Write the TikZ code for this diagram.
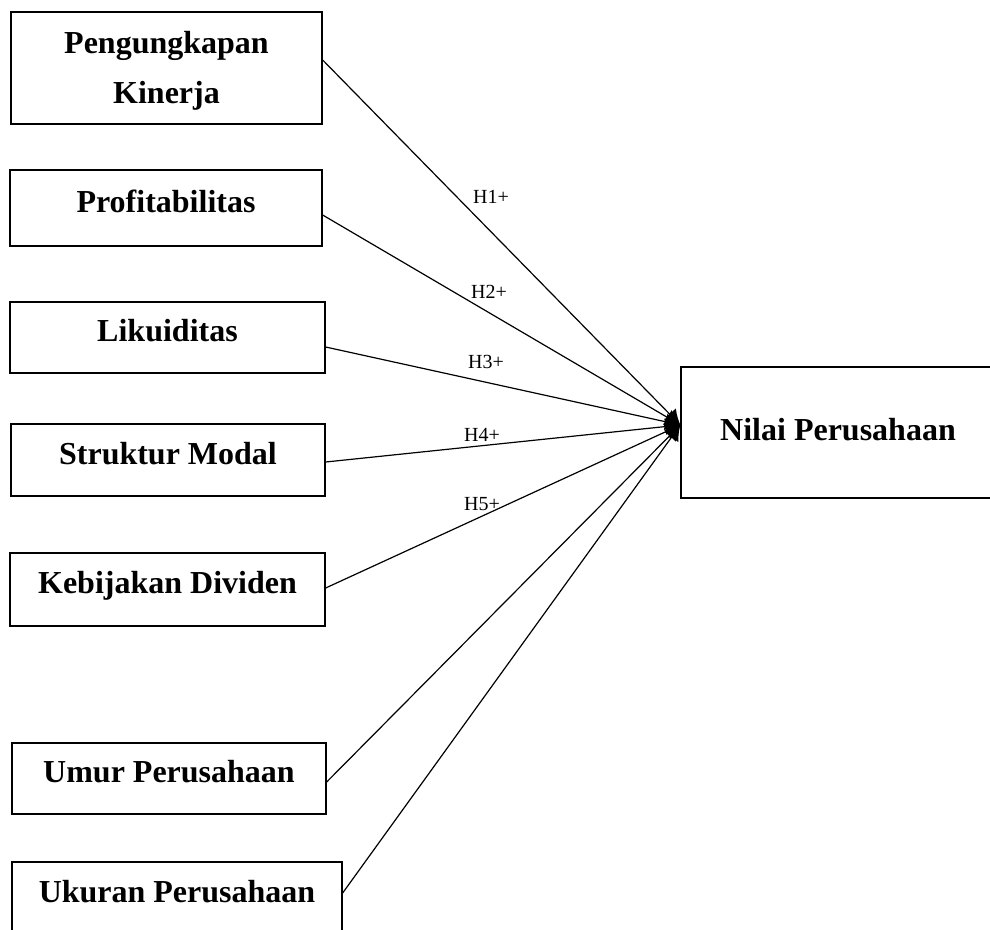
\documentclass[tikz,border=0pt]{standalone}
\usepackage{fontspec}
\setmainfont{Liberation Serif}
\usetikzlibrary{calc,arrows.meta}
\begin{document}
\begin{tikzpicture}[x=1pt,y=-1pt,
  varbox/.style={draw=black,line width=1.3pt,rectangle,inner sep=0pt,
    font=\fontsize{32}{50}\selectfont\bfseries,text height=20pt,text depth=12pt,align=center},
  lbl/.style={font=\fontsize{20}{24}\selectfont,inner sep=0pt},
  conn/.style={line width=1.2pt,-{Latex[length=15pt,width=17pt]}}]
\useasboundingbox (0,0) rectangle (990,929);
\clip (0,0) rectangle (990,929);
\node[varbox,minimum width=311pt,minimum height=112pt,text height=70pt,text depth=0pt] (b1) at (166.5,68) {Pengungkapan\\Kinerja};
\node[varbox,minimum width=312pt,minimum height=76pt] (b2) at (166,208) {Profitabilitas};
\node[varbox,minimum width=315pt,minimum height=71pt] (b3) at (167.5,337.5) {Likuiditas};
\node[varbox,minimum width=314pt,minimum height=72pt] (b4) at (168,460) {Struktur Modal};
\node[varbox,minimum width=315pt,minimum height=73pt] (b5) at (167.5,589.5) {Kebijakan Dividen};
\node[varbox,minimum width=314pt,minimum height=71pt] (b6) at (169,778.5) {Umur Perusahaan};
\node[varbox,minimum width=330pt,minimum height=72pt] (b7) at (177,898) {Ukuran Perusahaan};
\node[varbox,minimum width=314pt,minimum height=131pt,text depth=5pt] (nv) at (838,432.5) {Nilai Perusahaan};
\coordinate (s1) at ($(b1.east)+(0,-8)$);
\coordinate (s2) at ($(b2.east)+(0,7)$);
\coordinate (s3) at ($(b3.east)+(0,9.5)$);
\coordinate (s4) at ($(b4.east)+(0,2)$);
\coordinate (s5) at ($(b5.east)+(0,-1.5)$);
\coordinate (s6) at ($(b6.east)+(0,3.5)$);
\coordinate (s7) at ($(b7.east)+(0,-5)$);
\coordinate (t) at ($(nv.west)+(0,-7.5)$);
\foreach \i in {1,...,7} {\draw[conn] (s\i) -- (t);}
\node[lbl] (h1) at (491,197) {H1+};
\node[lbl] (h2) at (489,292) {H2+};
\node[lbl] (h3) at (486,362) {H3+};
\node[lbl] (h4) at (482,435) {H4+};
\node[lbl] (h5) at (482,504) {H5+};
\end{tikzpicture}
\end{document}
